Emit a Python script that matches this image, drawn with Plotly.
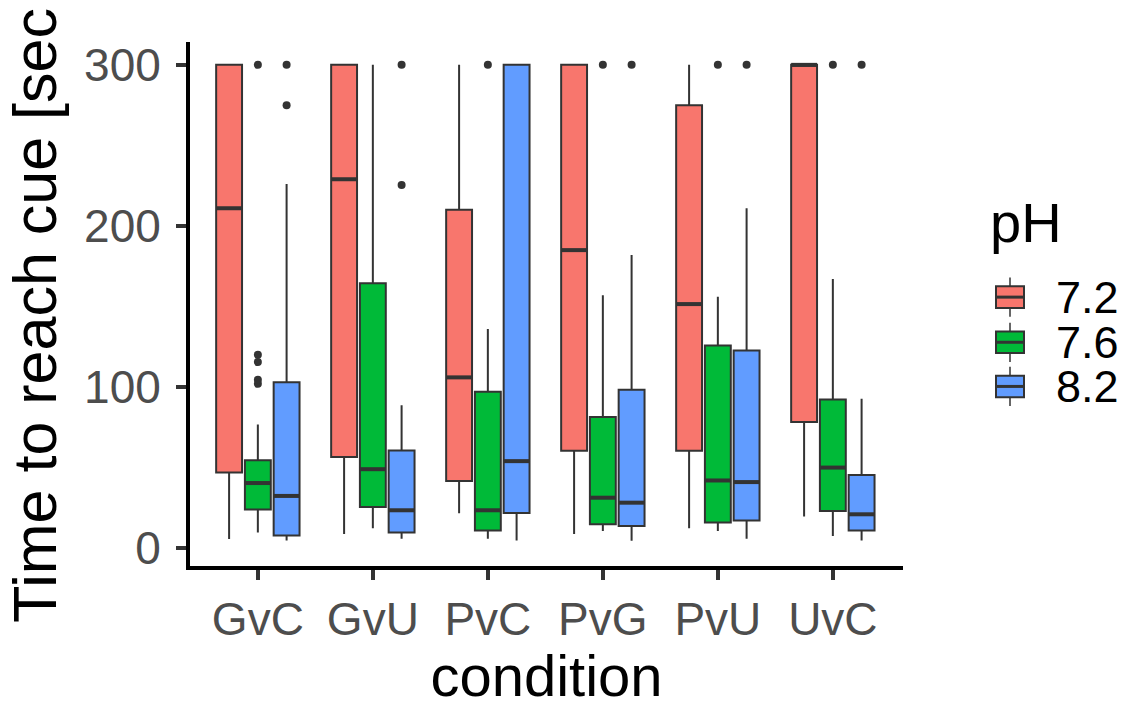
import plotly.graph_objects as go

# Conditions on the x axis and pH groups
conditions = ["GvC", "GvU", "PvC", "PvG", "PvU", "UvC"]
ph_levels = ["7.2", "7.6", "8.2"]
ph_colors = ["#F8766D", "#00BA38", "#619CFF"]

# Box statistics per pH, one entry per condition (seconds)
lower_72 = [5.7, 8.7, 21.6, 8.7, 12.4, 19.6]
q1_72 = [47.0, 56.5, 41.6, 60.4, 60.4, 78.3]
median_72 = [211.0, 229.0, 106.0, 185.0, 151.5, 300.0]
q3_72 = [300.0, 300.0, 210.0, 300.0, 275.0, 300.0]
upper_72 = [300.0, 300.0, 300.0, 300.0, 300.0, 300.0]
outliers_72 = [[], [], [], [], [], []]

lower_76 = [9.7, 12.4, 5.8, 10.7, 10.7, 7.6]
q1_76 = [24.0, 25.6, 10.9, 14.8, 15.9, 23.1]
median_76 = [40.4, 49.0, 23.5, 31.3, 42.0, 50.0]
q3_76 = [54.6, 164.5, 97.0, 81.4, 125.8, 92.2]
upper_76 = [76.7, 300.0, 136.0, 157.0, 156.0, 167.0]
outliers_76 = [[102.0, 104.5, 115.5, 120.0, 300.0], [], [300.0], [300.0], [300.0], [300.0]]

lower_82 = [4.7, 5.8, 4.7, 4.5, 5.8, 4.7]
q1_82 = [7.8, 9.7, 21.8, 13.8, 17.1, 10.9]
median_82 = [32.4, 23.5, 54.0, 28.2, 41.0, 21.0]
q3_82 = [103.0, 60.6, 300.0, 98.3, 122.7, 45.4]
upper_82 = [226.0, 88.7, 300.0, 182.0, 211.0, 92.8]
outliers_82 = [[275.0, 300.0], [225.4, 300.0], [], [300.0], [300.0], [300.0]]

y_ticks = [0, 100, 200, 300]

stats = [
    (lower_72, q1_72, median_72, q3_72, upper_72, outliers_72),
    (lower_76, q1_76, median_76, q3_76, upper_76, outliers_76),
    (lower_82, q1_82, median_82, q3_82, upper_82, outliers_82),
]

DODGE = 0.25      # spacing between the pH boxes inside one condition
BOX_W = 0.225     # box width in category units
EDGE = "#333333"
FONT = "Liberation Sans"

fig = go.Figure()

for g, (lo, q1, med, q3, up, outs) in enumerate(stats):
    offset = (g - 1) * DODGE
    pos = [i + offset for i in range(len(conditions))]
    fig.add_trace(go.Box(
        x=pos, q1=q1, median=med, q3=q3, lowerfence=lo, upperfence=up,
        width=BOX_W, fillcolor=ph_colors[g],
        line=dict(color=EDGE, width=2), whiskerwidth=0,
        boxpoints=False, showlegend=False, hoverinfo="skip",
    ))
    # thicker median bars
    mx, my = [], []
    for p, m in zip(pos, med):
        mx += [p - BOX_W / 2, p + BOX_W / 2, None]
        my += [m, m, None]
    fig.add_trace(go.Scatter(x=mx, y=my, mode="lines",
                             line=dict(color=EDGE, width=4),
                             showlegend=False, hoverinfo="skip"))
    # outlying observations
    ox, oy = [], []
    for p, vals in zip(pos, outs):
        ox += [p] * len(vals)
        oy += vals
    fig.add_trace(go.Scatter(x=ox, y=oy, mode="markers",
                             marker=dict(color=EDGE, size=8),
                             showlegend=False, hoverinfo="skip"))

# Plot area in pixels (for placing the legend and y title)
L, R, T, B = 190, 227, 42, 132
W, H = 1130, 708
PW, PH = W - L - R, H - T - B


def px_x(px):
    return (px - L) / PW


def px_y(py):
    return (H - B - py) / PH


shapes = []
annotations = []

# Hand-built legend with box-style keys
key_left, key_right = 996, 1024
key_mid = (key_left + key_right) / 2
item_y = [302, 348, 393]
for g, lab in enumerate(ph_levels):
    cy = item_y[g]
    shapes.append(dict(type="line", xref="paper", yref="paper",
                       x0=px_x(key_mid), x1=px_x(key_mid),
                       y0=px_y(cy - 20), y1=px_y(cy + 20),
                       line=dict(color=EDGE, width=1.5)))
    shapes.append(dict(type="rect", xref="paper", yref="paper",
                       x0=px_x(key_left), x1=px_x(key_right),
                       y0=px_y(cy - 11), y1=px_y(cy + 11),
                       fillcolor=ph_colors[g], line=dict(color=EDGE, width=2)))
    shapes.append(dict(type="line", xref="paper", yref="paper",
                       x0=px_x(key_left), x1=px_x(key_right),
                       y0=px_y(cy), y1=px_y(cy),
                       line=dict(color=EDGE, width=3)))
    annotations.append(dict(text=lab, xref="paper", yref="paper",
                            x=px_x(1054), y=px_y(cy), xanchor="left",
                            yanchor="middle", showarrow=False,
                            font=dict(family=FONT, size=45, color="black")))

annotations.append(dict(text="pH", xref="paper", yref="paper",
                        x=px_x(988), y=px_y(226), xanchor="left",
                        yanchor="middle", showarrow=False,
                        font=dict(family=FONT, size=56, color="black")))

# y axis title
annotations.append(dict(text="Time to reach cue [sec", xref="paper", yref="paper",
                        x=px_x(35), y=px_y(321), xanchor="center",
                        yanchor="middle", textangle=-90, showarrow=False,
                        font=dict(family=FONT, size=61, color="black")))

fig.update_layout(
    width=W, height=H,
    margin=dict(l=L, r=R, t=T, b=B),
    paper_bgcolor="white", plot_bgcolor="white",
    showlegend=False,
    boxmode="overlay",
    shapes=shapes, annotations=annotations,
    font=dict(family=FONT),
)

fig.update_xaxes(
    range=[-0.59, 5.61], tickvals=list(range(len(conditions))), ticktext=conditions,
    showgrid=False, zeroline=False,
    showline=True, linecolor="black", linewidth=4,
    ticks="outside", ticklen=10, tickwidth=4, tickcolor=EDGE,
    tickfont=dict(family=FONT, size=46, color="#4D4D4D"),
    title=dict(text="condition", font=dict(family=FONT, size=58, color="black"), standoff=10),
)

fig.update_yaxes(
    range=[-11.1, 314.2], tickvals=y_ticks, ticktext=[str(v) for v in y_ticks],
    showgrid=False, zeroline=False,
    showline=True, linecolor="black", linewidth=4,
    ticks="outside", ticklen=10, tickwidth=4, tickcolor=EDGE,
    ticklabelstandoff=6,
    tickfont=dict(family=FONT, size=46, color="#4D4D4D"),
)

fig.write_html("out.html")
